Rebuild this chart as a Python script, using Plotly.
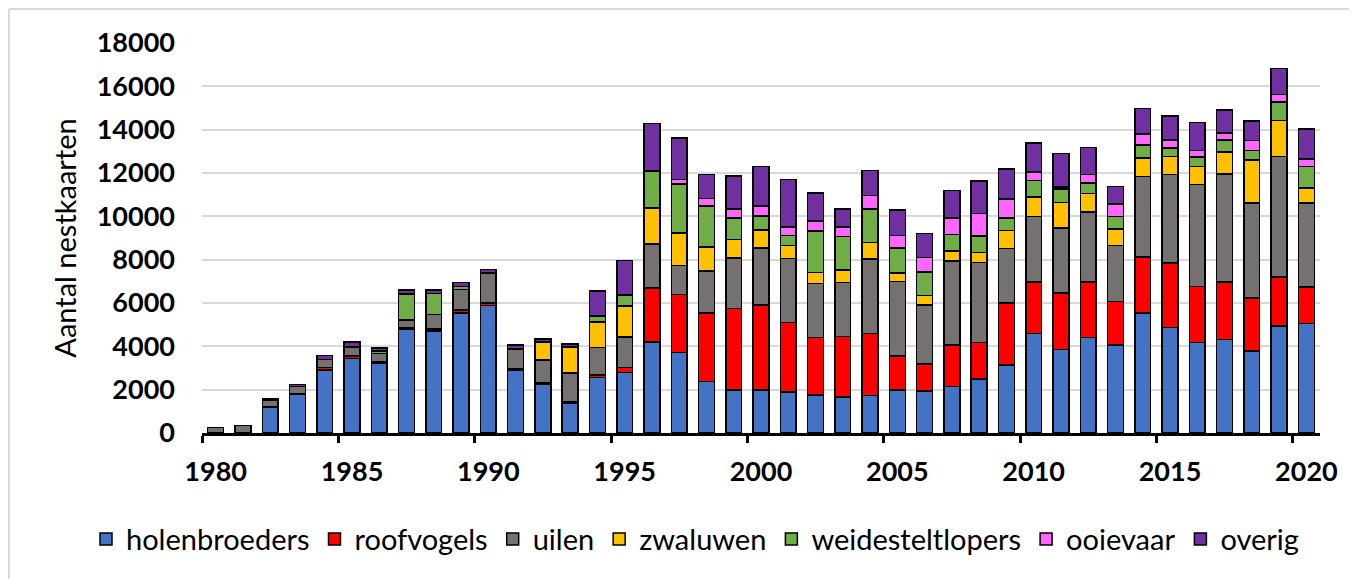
import plotly.graph_objects as go

years = list(range(1980, 2021))
label_years = list(range(1980, 2021, 5))

holenbroeders = [0, 0, 1200, 1800, 2900, 3450, 3220, 4800, 4700, 5550, 5880, 2880, 2270, 1380, 2570, 2790,
                 4210, 3720, 2380, 1990, 1990, 1890, 1760, 1660, 1730, 1990, 1950, 2150, 2500, 3140,
                 4600, 3860, 4410, 4060, 5550, 4860, 4180, 4320, 3790, 4950, 5060]
roofvogels = [0, 0, 0, 0, 120, 100, 60, 60, 100, 120, 120, 80, 60, 50, 110, 230,
              2480, 2670, 3170, 3750, 3910, 3200, 2640, 2790, 2870, 1560, 1230, 1920, 1670, 2870,
              2380, 2610, 2560, 2020, 2570, 2990, 2590, 2650, 2450, 2250, 1690]
uilen = [260, 340, 300, 350, 380, 400, 380, 350, 670, 950, 1380, 920, 1040, 1330, 1270, 1400,
         2040, 1330, 1920, 2330, 2640, 2960, 2500, 2500, 3420, 3450, 2730, 3860, 3690, 2500,
         3020, 3000, 3220, 2570, 3710, 4080, 4690, 4980, 4370, 5560, 3860]
zwaluwen = [0, 0, 0, 0, 0, 0, 0, 0, 0, 0, 0, 0, 840, 1200, 1180, 1440,
            1650, 1520, 1120, 860, 840, 610, 510, 570, 770, 380, 430, 460, 460, 840,
            890, 1180, 870, 770, 860, 840, 840, 1030, 1990, 1670, 690]
weidesteltlopers = [0, 0, 0, 0, 0, 50, 120, 1200, 970, 150, 0, 0, 0, 0, 260, 480,
                    1720, 2250, 1890, 1000, 630, 460, 1920, 1560, 1560, 1160, 1100, 780, 770, 580,
                    770, 610, 480, 580, 600, 380, 440, 540, 430, 840, 1000]
ooievaar = [0, 0, 0, 0, 0, 0, 0, 0, 0, 0, 0, 0, 0, 0, 0, 60,
            0, 200, 340, 410, 460, 380, 460, 430, 610, 570, 660, 750, 1030, 870,
            380, 100, 380, 570, 510, 370, 310, 320, 460, 350, 350]
overig = [0, 0, 80, 100, 180, 200, 150, 200, 170, 170, 160, 180, 130, 150, 1170, 1570,
          2180, 1920, 1100, 1520, 1840, 2210, 1290, 830, 1150, 1180, 1100, 1270, 1500, 1380,
          1350, 1540, 1260, 810, 1180, 1120, 1270, 1070, 920, 1200, 1380]

series = [
    ("holenbroeders", holenbroeders, "#4472C4"),
    ("roofvogels", roofvogels, "#FF0000"),
    ("uilen", uilen, "#767171"),
    ("zwaluwen", zwaluwen, "#FFC000"),
    ("weidesteltlopers", weidesteltlopers, "#70AD47"),
    ("ooievaar", ooievaar, "#FF66FF"),
    ("overig", overig, "#7030A0"),
]

# bars sit in the middle of each year slot; tick marks at slot boundaries
xpos = [y + 0.5 for y in years]

W, H = 1357, 579
ML, MR, MT, MB = 194, 45, 35, 154
PW, PH = W - ML - MR, H - MT - MB

fig = go.Figure()
for name, vals, col in series:
    fig.add_trace(go.Bar(
        x=xpos, y=vals, name=name, width=0.58,
        marker=dict(color=col, line=dict(color="black", width=1.5)),
    ))

# light chart-area border (top and left edges)
bx = (1 - ML) / PW
by = 1 + (MT - 1) / PH
fig.add_shape(type="line", xref="paper", yref="paper", x0=bx, x1=1 + MR / PW, y0=by, y1=by,
              line=dict(color="#d9d9d9", width=2))
fig.add_shape(type="line", xref="paper", yref="paper", x0=bx, x1=bx, y0=-MB / PH, y1=by,
              line=dict(color="#d9d9d9", width=2))

font_family = "Lato"
fig.update_layout(
    barmode="stack",
    width=W, height=H,
    paper_bgcolor="white", plot_bgcolor="white",
    margin=dict(l=ML, r=MR, t=MT, b=MB),
    font=dict(family=font_family, color="black"),
    legend=dict(orientation="h", x=(78 - ML) / PW, xanchor="left", y=-0.272, yanchor="middle",
                font=dict(size=29, family=font_family), traceorder="normal",
                itemwidth=30, tracegroupgap=0),
    showlegend=True,
)
fig.update_xaxes(
    range=[1980, 2021],
    tickvals=[y + 0.5 for y in label_years], ticktext=[str(y) for y in label_years],
    showgrid=False, showline=True, linecolor="black", linewidth=3,
    ticks="outside", ticklen=7, tickwidth=0, tickcolor="rgba(0,0,0,0)",
    minor=dict(tickvals=label_years, ticks="outside", ticklen=7, tickwidth=3,
               tickcolor="black", showgrid=False),
    tickfont=dict(size=27, family=font_family, weight="bold"),
    ticklabelstandoff=6, zeroline=False,
)
fig.update_yaxes(
    range=[0, 18000], dtick=2000, tickformat="d",
    showgrid=True, gridcolor="#d9d9d9", gridwidth=1.5,
    showline=False, ticks="", zeroline=False,
    tickfont=dict(size=27, family=font_family, weight="bold"),
    ticklabelstandoff=26,
    title=dict(text="Aantal nestkaarten", font=dict(size=29, family=font_family), standoff=11),
)

fig.write_html("out.html")
